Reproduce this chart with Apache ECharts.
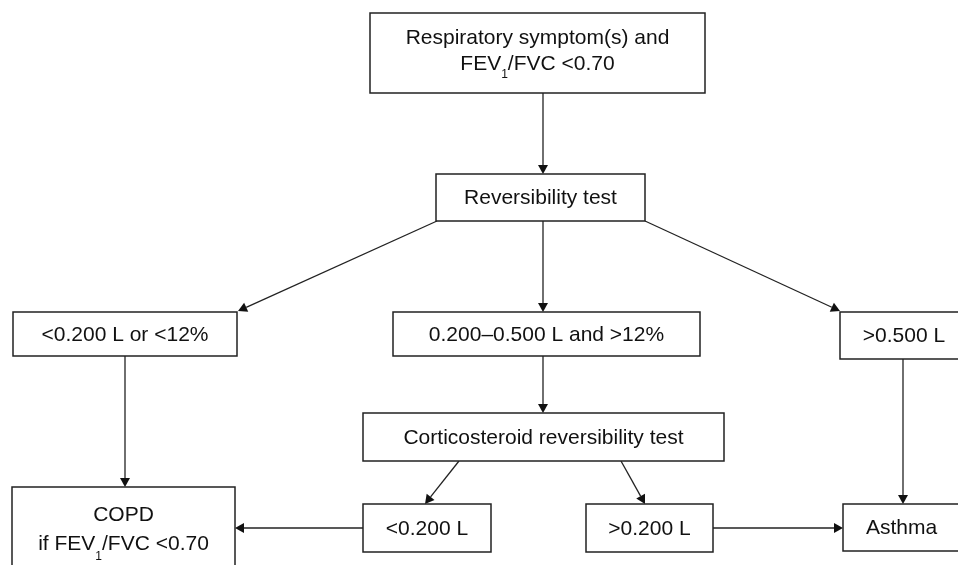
<!DOCTYPE html>
<html>
<head>
<meta charset="utf-8">
<script src="https://cdn.jsdelivr.net/npm/echarts@6/dist/echarts.min.js"></script>
<style>
  html, body { margin: 0; padding: 0; background: #fff; }
  #main { width: 958px; height: 565px; }
</style>
</head>
<body>
<div id="main"></div>
<script>
// flowchart nodes (text uses rich tag {sub|..} for subscripts)
const nodeNames = ['top', 'rev', 'low', 'mid', 'high', 'cort', 'cLow', 'cHigh', 'copd', 'asthma'];
const nodeText = [
  'Respiratory symptom(s) and\nFEV{sub|1}/FVC <0.70',
  'Reversibility test',
  '<0.200 L or <12%',
  '0.200–0.500 L and >12%',
  '>0.500 L',
  'Corticosteroid reversibility test',
  '<0.200 L',
  '>0.200 L',
  'COPD\nif FEV{sub|1}/FVC <0.70',
  'Asthma'
];
// edges
const edgeFrom = ['top', 'rev', 'rev', 'rev', 'low', 'mid', 'high', 'cort', 'cort', 'cLow', 'cHigh'];
const edgeTo = ['rev', 'low', 'mid', 'high', 'copd', 'cort', 'asthma', 'cLow', 'cHigh', 'copd', 'asthma'];

// layout, in the 958x565 pixel frame: [x1, y1, x2, y2, textCenterY, lineHeight]
const boxLayout = {
  top:    [370, 13, 705, 93, 51, 26],
  rev:    [436, 174, 645, 221],
  low:    [13, 312, 237, 356],
  mid:    [393, 312, 700, 356],
  high:   [840, 312, 968, 359],
  cort:   [363, 413, 724, 461],
  cLow:   [363, 504, 491, 552],
  cHigh:  [586, 504, 713, 552],
  copd:   [12, 487, 235, 580, 530, 29],
  asthma: [843, 504, 960, 551]
};
// arrow start / end points, same order as edgeFrom / edgeTo
const edgeLayout = [
  [543, 93, 543, 174],
  [437, 221, 238, 311],
  [543, 221, 543, 312],
  [645, 221, 840, 311],
  [125, 356, 125, 487],
  [543, 356, 543, 413],
  [903, 359, 903, 504],
  [459, 461, 425, 504],
  [621, 461, 645, 504],
  [363, 528, 235, 528],
  [713, 528, 843, 528]
];

const FONT = '"Liberation Sans", Arial, Helvetica, sans-serif';

const boxData = nodeNames.map(function (n, i) {
  const b = boxLayout[n];
  return { name: n, value: [b[0], b[1], b[2], b[3]] };
});
const edgeData = edgeFrom.map(function (f, i) {
  return { name: f + '-' + edgeTo[i], value: edgeLayout[i] };
});

function renderBox(params, api) {
  const i = params.dataIndex;
  const b = boxLayout[nodeNames[i]];
  const p1 = api.coord([api.value(0), api.value(1)]);
  const p2 = api.coord([api.value(2), api.value(3)]);
  const ty = b[4] != null ? api.coord([0, b[4]])[1] : (p1[1] + p2[1]) / 2 + 1;
  return {
    type: 'group',
    children: [
      {
        type: 'rect',
        shape: { x: p1[0], y: p1[1], width: p2[0] - p1[0], height: p2[1] - p1[1] },
        style: { fill: '#fff', stroke: '#222', lineWidth: 1.5 }
      },
      {
        type: 'text',
        x: (p1[0] + p2[0]) / 2,
        y: ty,
        style: {
          text: nodeText[i],
          fill: '#111',
          fontSize: 21,
          fontFamily: FONT,
          align: 'center',
          verticalAlign: 'middle',
          lineHeight: b[5] || 26,
          rich: {
            sub: { fontSize: 12, fontFamily: FONT, fill: '#111', verticalAlign: 'bottom', height: 4 }
          }
        }
      }
    ]
  };
}

function renderArrow(params, api) {
  const a = api.coord([api.value(0), api.value(1)]);
  const b = api.coord([api.value(2), api.value(3)]);
  const dx = b[0] - a[0], dy = b[1] - a[1];
  const len = Math.sqrt(dx * dx + dy * dy);
  const ux = dx / len, uy = dy / len;
  const L = 9, W = 5;
  const base = [b[0] - ux * L, b[1] - uy * L];
  return {
    type: 'group',
    children: [
      {
        type: 'line',
        shape: { x1: a[0], y1: a[1], x2: base[0], y2: base[1] },
        style: { stroke: '#222', lineWidth: 1.3 }
      },
      {
        type: 'polygon',
        shape: { points: [b, [base[0] - uy * W, base[1] + ux * W], [base[0] + uy * W, base[1] - ux * W]] },
        style: { fill: '#111' }
      }
    ]
  };
}

const chart = echarts.init(document.getElementById('main'));
chart.setOption({
  backgroundColor: '#fff',
  animation: false,
  grid: { left: 0, right: 0, top: 0, bottom: 0 },
  xAxis: { type: 'value', min: 0, max: 958, show: false },
  yAxis: { type: 'value', min: 0, max: 565, inverse: true, show: false },
  series: [
    {
      type: 'custom',
      name: 'arrows',
      renderItem: renderArrow,
      data: edgeData,
      z: 1
    },
    {
      type: 'custom',
      name: 'boxes',
      renderItem: renderBox,
      data: boxData,
      z: 2
    }
  ]
});
</script>
</body>
</html>
